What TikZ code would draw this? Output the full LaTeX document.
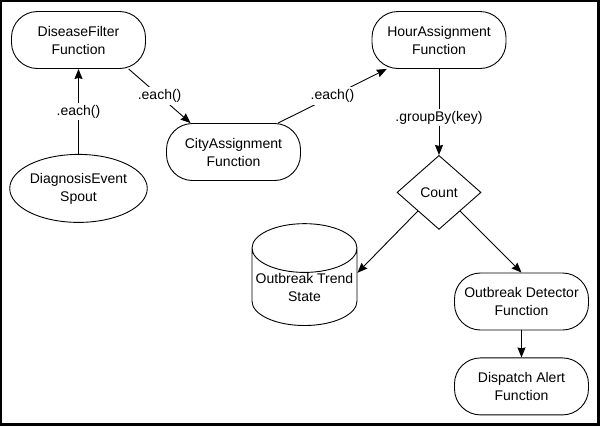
\documentclass[tikz,border=0pt]{standalone}
\usepackage{fontspec}
\setmainfont{Liberation Sans}
\usetikzlibrary{arrows.meta, positioning, shapes.geometric}
\tikzset{
  base/.style = {align=center, inner sep=0pt, text centered,
    font=\fontsize{14}{18}\selectfont},
  fn/.style = {base, rectangle, rounded corners=26pt, draw=black,
    minimum width=134pt, minimum height=57pt},
  spout/.style = {base, ellipse, draw=black,
    minimum width=119pt, minimum height=68pt},
  agg/.style = {base, diamond, draw=black,
    minimum width=84pt, minimum height=74pt},
  store/.style = {base, cylinder, shape border rotate=90, aspect=0.5,
    draw=black, minimum width=105pt, minimum height=88pt},
  op/.style = {base, fill=white, inner sep=2pt}
}

\begin{document}
\begin{tikzpicture}[x=1pt, y=-1pt, ->, >={Stealth[length=10pt, width=8pt, inset=1pt]},
  line width=0.9pt]
\useasboundingbox (0,0) rectangle (600,426);
\draw [-, line width=2.5pt] (1,1) rectangle (598.5,424.5);
\node [fn] (filter) at (78.5,40) {DiseaseFilter\\Function};
\node [spout, below=85pt of filter] (spout) {DiagnosisEvent\\Spout};
\node [fn] (city) at (233.5,152) {CityAssignment\\Function};
\node [fn] (hour) at (439,40) {HourAssignment\\Function};
\node [agg, below=86pt of hour] (count) {Count};
\node [store] (trend) at (304.5,287) {Outbreak Trend\\State};
\node [fn] (detect) at (521.5,301.5) {Outbreak Detector\\Function};
\node [fn, below=27pt of detect] (alert) {Dispatch Alert\\Function};

\draw (spout) -- node [op] {.each()} (filter);
\draw (filter.-30) -- node [op] {.each()} (city.146);
\draw (city.33) -- node [op] {.each()} (hour.209);
\draw (hour) -- node [op, pos=0.57] {.groupBy(key)} (count);
\draw (count.south west) -- (trend.15);
\draw (count.south east) -- (detect.north);
\draw (detect) -- (alert);
\end{tikzpicture}
\end{document}
